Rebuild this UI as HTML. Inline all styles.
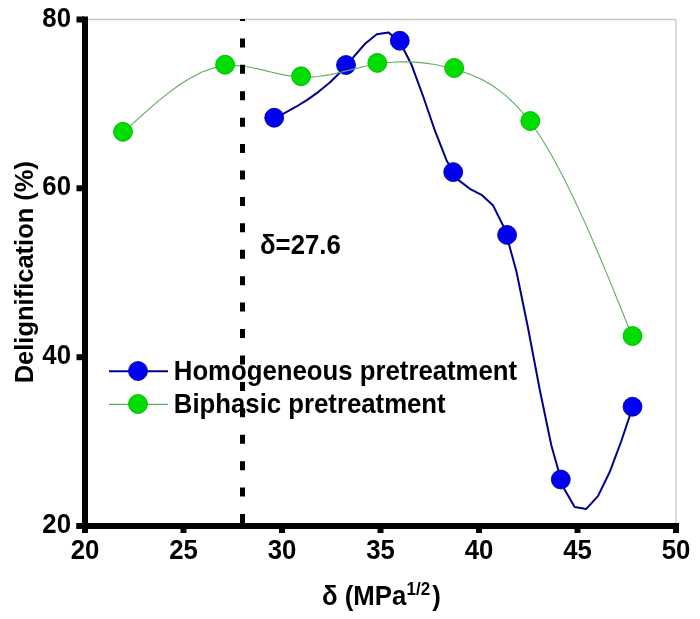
<!DOCTYPE html>
<html><head><meta charset="utf-8"><title>Delignification vs solubility parameter</title>
<style>
html,body{margin:0;padding:0;background:#fff;width:700px;height:619px;overflow:hidden}
svg{display:block;will-change:transform}
text{font-family:'Liberation Sans', Arial, sans-serif;font-weight:bold;font-size:25.75px;fill:#000}
</style></head>
<body>
<svg width="700" height="619" viewBox="0 0 700 619">
<defs><clipPath id="pc"><rect x="88" y="19" width="588" height="504"/></clipPath></defs>
<rect width="700" height="619" fill="#fff"/>
<line x1="88" y1="19.5" x2="676" y2="19.5" stroke="#c8c8c8" stroke-width="1.3"/>
<line x1="676" y1="19.5" x2="676" y2="523" stroke="#c8c8c8" stroke-width="1.3"/>
<path transform="translate(0,1)" d="M274.20,117.70 L283.58,112.72 L295.22,106.24 L306.86,99.07 L318.50,90.84 L330.15,81.17 L341.79,69.68 L353.43,56.17 L365.08,42.77 L376.72,33.25 L388.36,31.39 L400.01,41.00 L411.65,64.05 L423.29,95.74 L434.94,129.71 L446.58,159.48 L458.22,178.86 L469.86,187.83 L481.51,193.80 L493.15,204.60 L504.79,228.06 L516.44,270.55 L528.08,327.24 L539.72,388.48 L551.37,444.57 L563.01,485.73 L574.65,506.00 L586.29,507.89 L597.94,495.09 L609.58,471.31 L621.22,440.25 L632.50,406.70" fill="none" stroke="#00008c" stroke-width="2.0" stroke-linejoin="round"/>
<circle cx="274.2" cy="117.7" r="9.45" fill="#0000f0" stroke="#0000a8" stroke-width="0.9"/>
<circle cx="346" cy="65" r="9.45" fill="#0000f0" stroke="#0000a8" stroke-width="0.9"/>
<circle cx="399.8" cy="40.7" r="9.45" fill="#0000f0" stroke="#0000a8" stroke-width="0.9"/>
<circle cx="453.2" cy="172.1" r="9.45" fill="#0000f0" stroke="#0000a8" stroke-width="0.9"/>
<circle cx="507.1" cy="234.9" r="9.45" fill="#0000f0" stroke="#0000a8" stroke-width="0.9"/>
<circle cx="560.8" cy="479.5" r="9.45" fill="#0000f0" stroke="#0000a8" stroke-width="0.9"/>
<circle cx="632.5" cy="406.7" r="9.45" fill="#0000f0" stroke="#0000a8" stroke-width="0.9"/>
<path transform="translate(0,1)" d="M123.00,131.80 L132.22,123.21 L143.86,112.57 L155.50,102.37 L167.15,92.87 L178.79,84.32 L190.43,76.98 L202.07,71.09 L213.72,66.90 L225.36,64.67 L237.00,64.50 L248.65,65.92 L260.29,68.35 L271.93,71.20 L283.58,73.89 L295.22,75.81 L306.86,76.40 L318.50,75.55 L330.15,73.64 L341.79,71.04 L353.43,68.14 L365.08,65.33 L376.72,63.00 L388.36,61.46 L400.01,60.78 L411.65,60.92 L423.29,61.86 L434.94,63.57 L446.58,66.01 L458.22,69.17 L469.86,73.16 L481.51,78.34 L493.15,85.06 L504.79,93.68 L516.44,104.58 L528.08,118.09 L539.72,134.54 L551.37,153.78 L563.01,175.44 L574.65,199.17 L586.29,224.64 L597.94,251.52 L609.58,279.41 L621.22,307.98 L632.50,336.00" fill="none" stroke="#5cae5e" stroke-width="1.1"/>
<circle cx="123" cy="131.8" r="9.45" fill="#00dd00" stroke="#00b000" stroke-width="0.9"/>
<circle cx="225.1" cy="64.7" r="9.45" fill="#00dd00" stroke="#00b000" stroke-width="0.9"/>
<circle cx="301.1" cy="76.3" r="9.45" fill="#00dd00" stroke="#00b000" stroke-width="0.9"/>
<circle cx="377.3" cy="62.9" r="9.45" fill="#00dd00" stroke="#00b000" stroke-width="0.9"/>
<circle cx="454.2" cy="68" r="9.45" fill="#00dd00" stroke="#00b000" stroke-width="0.9"/>
<circle cx="530.3" cy="121" r="9.45" fill="#00dd00" stroke="#00b000" stroke-width="0.9"/>
<circle cx="632.5" cy="336" r="9.45" fill="#00dd00" stroke="#00b000" stroke-width="0.9"/>
<line x1="242.5" y1="12.0" x2="242.5" y2="523" stroke="#000" stroke-width="5" stroke-dasharray="9 17.42" clip-path="url(#pc)"/>
<rect x="82" y="16.5" width="6" height="516.5" fill="#000"/>
<rect x="76.5" y="523" width="602.5" height="6" fill="#000"/>
<rect x="76.5" y="16.5" width="8" height="6" fill="#000"/>
<text transform="translate(71.00,26.51) scale(1,1.04)" text-anchor="end">80</text>
<rect x="76.5" y="185.3" width="8" height="6" fill="#000"/>
<text transform="translate(71.00,195.34) scale(1,1.04)" text-anchor="end">60</text>
<rect x="76.5" y="354.2" width="8" height="6" fill="#000"/>
<text transform="translate(71.00,364.17) scale(1,1.04)" text-anchor="end">40</text>
<rect x="76.5" y="523.0" width="8" height="6" fill="#000"/>
<text transform="translate(71.00,533.00) scale(1,1.04)" text-anchor="end">20</text>
<rect x="82.0" y="526" width="6" height="7" fill="#000"/>
<text transform="translate(85.00,559.00) scale(1,1.04)" text-anchor="middle">20</text>
<rect x="180.5" y="526" width="6" height="7" fill="#000"/>
<text transform="translate(183.50,559.00) scale(1,1.04)" text-anchor="middle">25</text>
<rect x="279.0" y="526" width="6" height="7" fill="#000"/>
<text transform="translate(282.00,559.00) scale(1,1.04)" text-anchor="middle">30</text>
<rect x="377.5" y="526" width="6" height="7" fill="#000"/>
<text transform="translate(380.50,559.00) scale(1,1.04)" text-anchor="middle">35</text>
<rect x="476.0" y="526" width="6" height="7" fill="#000"/>
<text transform="translate(479.00,559.00) scale(1,1.04)" text-anchor="middle">40</text>
<rect x="574.5" y="526" width="6" height="7" fill="#000"/>
<text transform="translate(577.50,559.00) scale(1,1.04)" text-anchor="middle">45</text>
<rect x="673.0" y="526" width="6" height="7" fill="#000"/>
<text transform="translate(676.00,559.00) scale(1,1.04)" text-anchor="middle">50</text>
<text transform="translate(322.00,604.50) scale(1,1.04)">δ (MPa<tspan font-size="17" dx="0.3" dy="-9.6">1/2</tspan><tspan dx="2.0" dy="9.6">)</tspan></text>
<text transform="translate(32.6,383.3) rotate(-90) scale(1,1.04)" style="font-size:25.5px">Delignification (%)</text>
<text transform="translate(260.00,254.30) scale(1,1.04)">δ=27.6</text>
<line x1="109" y1="371.3" x2="168" y2="371.3" stroke="#00008c" stroke-width="2.0"/>
<circle cx="138" cy="371" r="9.45" fill="#0000f0" stroke="#0000a8" stroke-width="0.9"/>
<text transform="translate(173.80,379.90) scale(1,1.04)">Homogeneous pretreatment</text>
<line x1="109" y1="404.4" x2="168" y2="404.4" stroke="#5cae5e" stroke-width="1.1"/>
<circle cx="138" cy="404" r="9.45" fill="#00dd00" stroke="#00b000" stroke-width="0.9"/>
<text transform="translate(173.80,413.10) scale(1,1.04)">Biphasic pretreatment</text>
</svg>
</body></html>
